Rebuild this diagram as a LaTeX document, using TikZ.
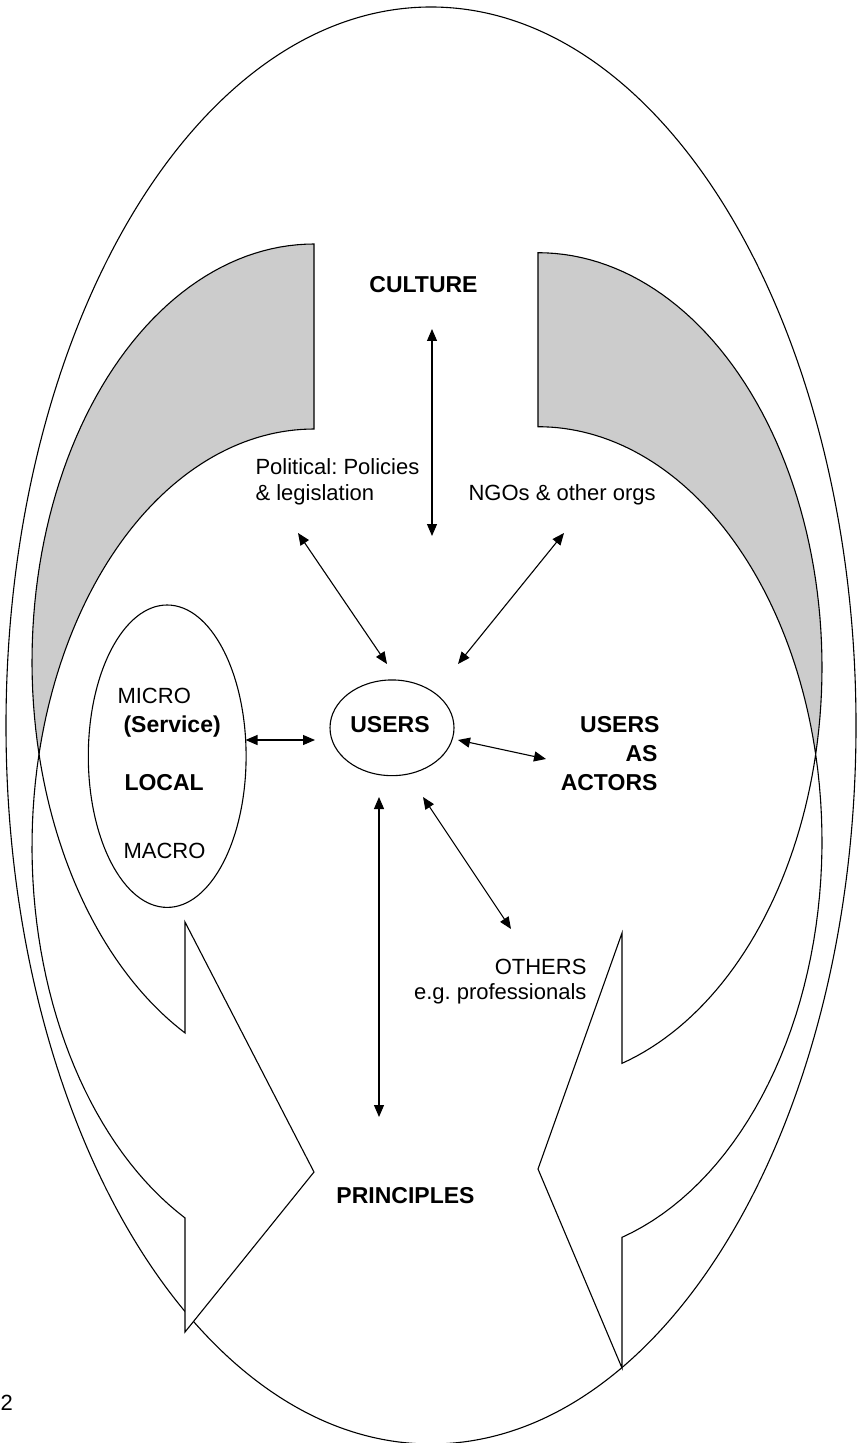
\documentclass[tikz,border=0pt]{standalone}
\usepackage{fontspec}
\setmainfont{Liberation Sans}
\usetikzlibrary{arrows.meta,shapes.geometric}
\definecolor{backgray}{RGB}{204,204,204}
\frenchspacing
\begin{document}
\begin{tikzpicture}[x=0.5pt,y=-0.5pt,
  line width=0.55pt,
  reg/.style={inner sep=0pt, font=\fontsize{11}{13}\selectfont},
  bld/.style={inner sep=0pt, font=\fontsize{11.5}{13.5}\selectfont\bfseries},
  link/.style={{Triangle[length=6pt,width=5pt]}-{Triangle[length=6pt,width=5pt]}, line width=0.55pt},
  ribbon/.style={draw=black, fill=white, line join=miter},
  ribbonback/.style={draw=black, fill=backgray, line join=miter},
  oval/.style={draw=black, ellipse, inner sep=0pt},
]
\useasboundingbox (0,0) rectangle (860,1443);

% outer frame ellipse
\node[oval, minimum width=425pt, minimum height=718.5pt] (frame) at (431,725.5) {};

% ---- left curved arrow ----
\path[ribbonback]
  plot[domain=270:167.2, samples=60, variable=\t] ({314+282*cos(\t)},{661.6+417.6*sin(\t)})
  -- plot[domain=192.8:270, samples=60, variable=\t] ({314+282*cos(\t)},{846.6+417.6*sin(\t)})
  -- cycle;
\path[ribbon]
  plot[domain=167.2:117.22, samples=40, variable=\t] ({314+282*cos(\t)},{661.6+417.6*sin(\t)})
  -- (185,922) -- (314,1172) -- (185,1332) -- (185,1218)
  -- plot[domain=117.22:192.8, samples=40, variable=\t] ({314+282*cos(\t)},{846.6+417.6*sin(\t)})
  -- cycle;

% ---- right curved arrow ----
\path[ribbonback]
  plot[domain=270:372.11, samples=60, variable=\t] ({538+284*cos(\t)},{667.3+414.6*sin(\t)})
  -- plot[domain=347.89:270, samples=60, variable=\t] ({538+284*cos(\t)},{841.3+414.6*sin(\t)})
  -- cycle;
\path[ribbon]
  plot[domain=372.11:432.8, samples=40, variable=\t] ({538+284*cos(\t)},{667.3+414.6*sin(\t)})
  -- (622,933) -- (538,1169) -- (622,1368) -- (622,1237.4)
  -- plot[domain=432.8:347.89, samples=40, variable=\t] ({538+284*cos(\t)},{841.3+414.6*sin(\t)})
  -- cycle;

% ---- ellipses ----
\node[oval, minimum width=78.9pt, minimum height=151.2pt] (localell) at (167.2,756.2) {};
\node[oval, minimum width=62pt, minimum height=47.85pt] (usersell) at (392,727.8) {};

% ---- texts ----
\node[bld, anchor=base] (culture) at (423.5,293) {CULTURE};
\node[reg, anchor=base west] (pol1) at (255,474) {Political: Policies};
\node[reg, anchor=base west] (pol2) at (255,500) {\& legislation};
\node[reg, anchor=base west] (ngo) at (468,500) {NGOs \& other orgs};
\node[bld, anchor=base] (users) at (390,732) {USERS};
\node[reg, anchor=base west] (micro) at (117,703) {MICRO};
\node[bld, anchor=base west] (service) at (123,732.5) {(Service)};
\node[bld, anchor=base west] (local) at (124,790) {LOCAL};
\node[reg, anchor=base west] (macro) at (123,858) {MACRO};
\node[bld, anchor=base east] (act1) at (660,732) {USERS};
\node[bld, anchor=base east] (act2) at (658,761) {AS};
\node[bld, anchor=base east] (act3) at (658,790) {ACTORS};
\node[reg, anchor=base east] (oth1) at (587,974) {OTHERS};
\node[reg, anchor=base east] (oth2) at (587,999) {e.g. professionals};
\node[bld, anchor=base] (principles) at (405.5,1203) {PRINCIPLES};
\node[reg, anchor=base west] (pagenum) at (0,1410) {2};

% ---- connector ends ----
\coordinate (cultTop) at (432,329);
\coordinate (cultBot) at (432,536);
\coordinate (polEnd) at (298,533);
\coordinate (polUsr) at (387,664);
\coordinate (ngoEnd) at (564,533);
\coordinate (ngoUsr) at (458,664);
\coordinate (actUsr) at (458,740);
\coordinate (actEnd) at (546,759);
\coordinate (priUsr) at (379,797);
\coordinate (priEnd) at (379,1117);
\coordinate (othUsr) at (423,797);
\coordinate (othEnd) at (511,929);
\coordinate (locEnd) at (245.5,740);
\coordinate (locUsr) at (315,740);

\draw[link] (cultTop) -- (cultBot);
\draw[link] (polEnd) -- (polUsr);
\draw[link] (ngoEnd) -- (ngoUsr);
\draw[link] (actUsr) -- (actEnd);
\draw[link] (priUsr) -- (priEnd);
\draw[link] (othUsr) -- (othEnd);
\draw[link] (locEnd) -- (locUsr);
\end{tikzpicture}
\end{document}
